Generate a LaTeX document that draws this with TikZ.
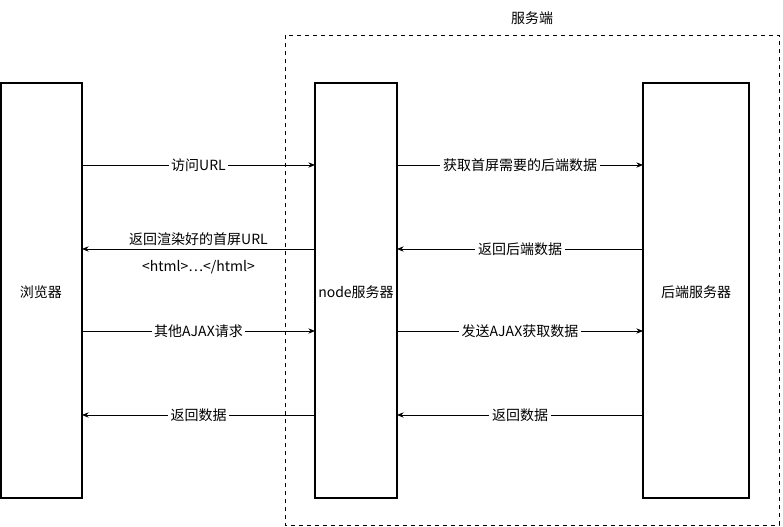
\documentclass[tikz,border=0pt]{standalone}
\usepackage{fontspec}
\setmainfont{Noto Sans CJK SC}
\usetikzlibrary{arrows.meta}
\begin{document}
\begin{tikzpicture}[x=0.75pt,y=-0.75pt,
  box/.style={draw,line width=0.8pt,fill=white},
  arr/.style={-{Stealth[length=5pt,width=4pt]},line width=0.6pt},
  lbl/.style={fill=white,inner sep=2pt,font=\fontsize{10.5pt}{12pt}\selectfont}]
\useasboundingbox (0,0) rectangle (783,527);
\draw[dashed,line width=0.6pt] (285,35) rectangle (779,525);
\node[lbl] (srv) at (532,18) {服务端};
\draw[box] (1,83) rectangle (82,498);
\draw[box] (315,83) rectangle (397,498);
\draw[box] (643,83) rectangle (749,498);
\node[lbl,fill=none] (b) at (41,292) {浏览器};
\node[lbl,fill=none] (n) at (356,292) {node服务器};
\node[lbl,fill=none] (h) at (696,292) {后端服务器};
\coordinate (b1) at (82,165); \coordinate (n1) at (315,165);
\coordinate (n1r) at (397,165); \coordinate (h1) at (643,165);
\draw[arr] (b1) -- node[lbl]{访问URL} (n1);
\draw[arr] (n1r) -- node[lbl]{获取首屏需要的后端数据} (h1);
\coordinate (b2) at (82,249); \coordinate (n2) at (315,249);
\coordinate (n2r) at (397,249); \coordinate (h2) at (643,249);
\draw[arr] (n2) -- node[lbl,above=0pt]{返回渲染好的首屏URL} node[lbl,below=6pt]{<html>…</html>} (b2);
\draw[arr] (h2) -- node[lbl]{返回后端数据} (n2r);
\coordinate (b3) at (82,331); \coordinate (n3) at (315,331);
\coordinate (n3r) at (397,331); \coordinate (h3) at (643,331);
\draw[arr] (b3) -- node[lbl]{其他AJAX请求} (n3);
\draw[arr] (n3r) -- node[lbl]{发送AJAX获取数据} (h3);
\coordinate (b4) at (82,415); \coordinate (n4) at (315,415);
\coordinate (n4r) at (397,415); \coordinate (h4) at (643,415);
\draw[arr] (n4) -- node[lbl]{返回数据} (b4);
\draw[arr] (h4) -- node[lbl]{返回数据} (n4r);
\end{tikzpicture}
\end{document}
